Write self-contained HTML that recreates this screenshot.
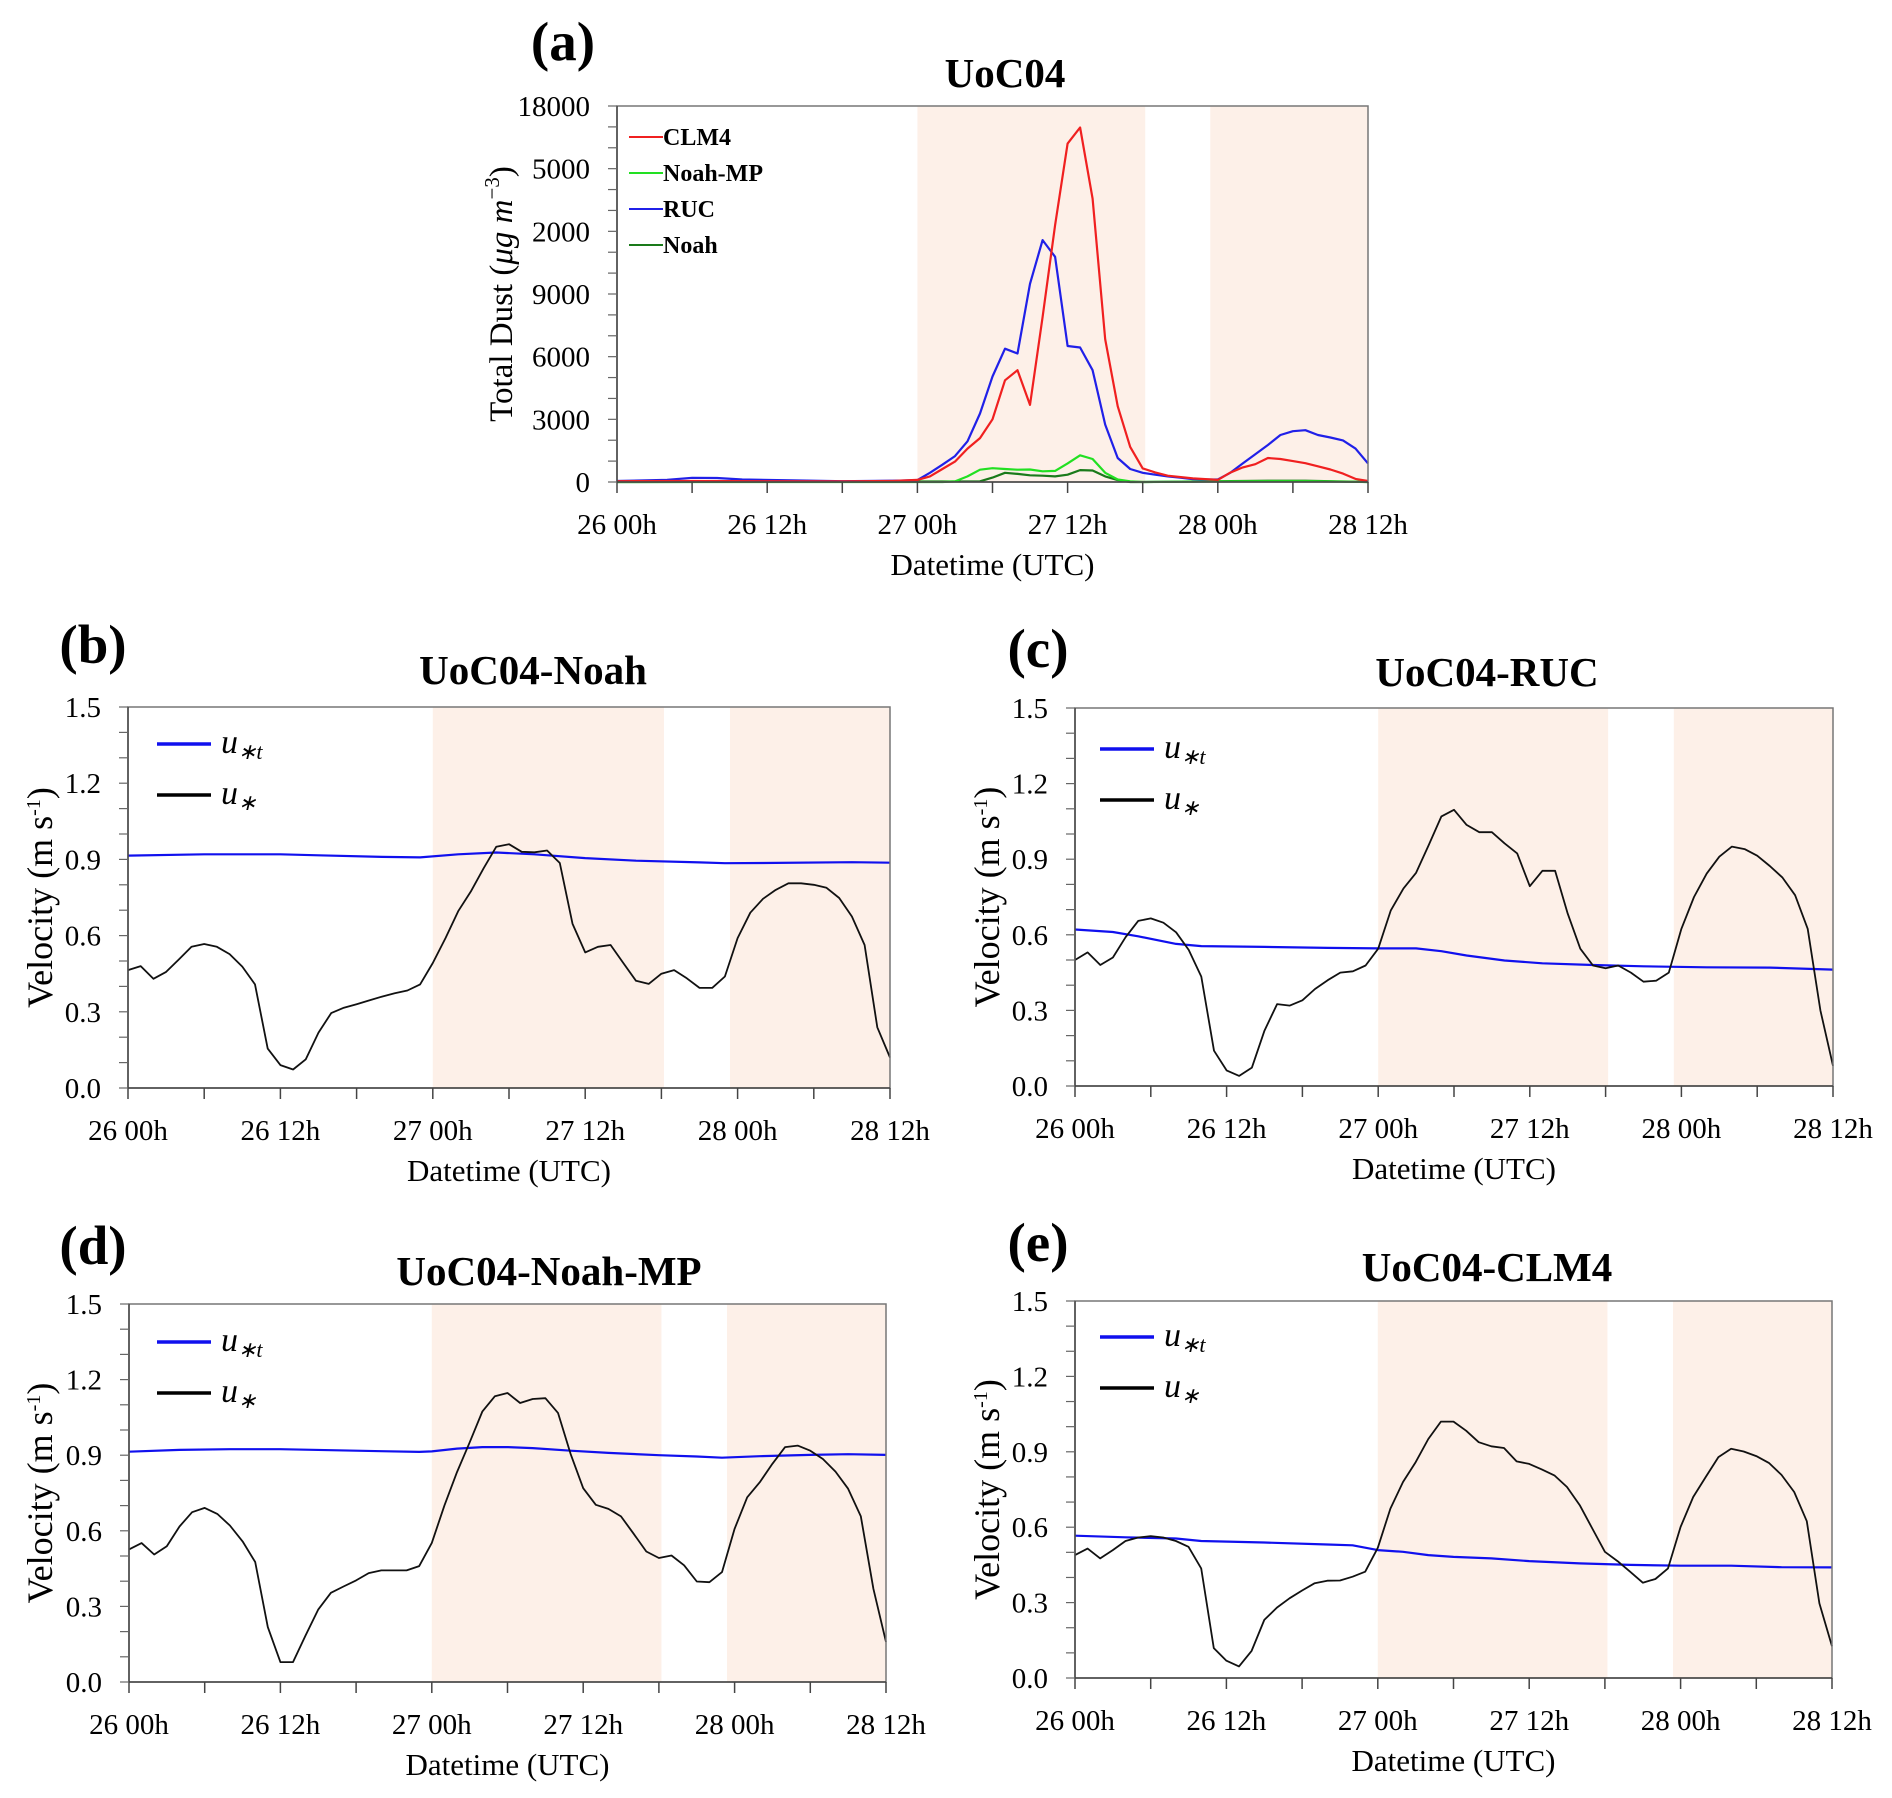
<!DOCTYPE html>
<html><head><meta charset="utf-8">
<style>
html,body{margin:0;padding:0;background:#fff;}
svg{display:block;font-family:"Liberation Serif","Times New Roman",serif;}
</style></head>
<body>
<svg id="fig" width="1892" height="1798" viewBox="0 0 1892 1798" xmlns="http://www.w3.org/2000/svg" font-family="Liberation Serif, serif"></svg>
<script>
// ---------- Data ----------
const xTickHours = [0,6,12,18,24,30,36,42,48,54,60];
const xTickLabels = ["26 00h","","26 12h","","27 00h","","27 12h","","28 00h","","28 12h"];
const shadeSpans = [[24,42.2],[47.4,60]];

// Panel (a) total dust
const dustTickValues = [0,3000,6000,9000,12000,15000,18000];
const dustTickLabels = ["0","3000","6000","9000","2000","5000","18000"];
const clm4Hours = [0,6,12,18,22,24,25,26,27,28,29,30,31,32,33,34,35,36,37,38,39,40,41,42,43,44,46,48,49,50,51,52,53,54,55,56,57,58,59,60];
const clm4Vals  = [40,50,40,30,50,100,270,620,975,1600,2100,3000,4870,5350,3690,7900,12300,16200,16970,13560,6830,3630,1680,650,460,300,170,100,450,700,850,1150,1100,1000,900,750,600,400,150,50];
const mpHours = [0,26,27,28,29,30,31,32,33,34,35,36,37,38,39,40,41,42,52,55,60];
const mpVals  = [0,0,30,270,590,660,620,590,600,510,530,890,1280,1100,440,120,35,0,40,40,0];
const rucHours = [0,4,6,8,10,14,18,22,23,24,25,26,27,28,29,30,31,32,33,34,35,36,37,38,39,40,41,42,43,44,45,46,47,48,49,50,51,52,53,54,55,56,57,58,59,60];
const rucVals  = [50,100,200,190,120,80,40,60,70,90,440,830,1240,1950,3280,5050,6380,6150,9490,11580,10780,6510,6440,5350,2750,1150,620,440,350,270,210,140,120,120,440,890,1330,1770,2250,2430,2480,2250,2130,1990,1600,890];
const noahHours = [0,29,30,31,32,33,34,35,36,37,38,39,40,41,42,52,55,60];
const noahVals  = [0,35,210,440,390,320,300,270,350,570,550,270,90,0,0,60,60,0];

// Panels (b)-(e) velocity
const velTickValues = [0,0.3,0.6,0.9,1.2,1.5];
const velTickLabels = ["0.0","0.3","0.6","0.9","1.2","1.5"];
const ustarNoah = [0.464,0.48,0.43,0.457,0.506,0.556,0.567,0.556,0.527,0.478,0.408,0.155,0.09,0.073,0.113,0.218,0.295,0.316,0.33,0.345,0.36,0.373,0.384,0.408,0.492,0.59,0.696,0.774,0.865,0.95,0.96,0.93,0.928,0.935,0.886,0.647,0.534,0.556,0.563,0.492,0.422,0.41,0.45,0.464,0.432,0.394,0.394,0.439,0.59,0.69,0.745,0.78,0.806,0.806,0.8,0.788,0.748,0.675,0.563,0.239,0.12];
const ustarRuc = [0.50,0.53,0.48,0.51,0.59,0.655,0.665,0.648,0.61,0.54,0.434,0.14,0.062,0.04,0.073,0.22,0.325,0.319,0.34,0.385,0.42,0.45,0.455,0.478,0.545,0.697,0.784,0.846,0.956,1.07,1.096,1.036,1.007,1.007,0.963,0.923,0.793,0.854,0.854,0.684,0.545,0.478,0.467,0.478,0.45,0.414,0.418,0.45,0.624,0.75,0.843,0.91,0.95,0.94,0.914,0.873,0.827,0.757,0.624,0.3,0.08];
const ustarMp = [0.526,0.551,0.506,0.539,0.617,0.674,0.691,0.667,0.621,0.558,0.476,0.218,0.079,0.079,0.185,0.288,0.354,0.379,0.403,0.432,0.443,0.443,0.443,0.46,0.552,0.7,0.833,0.951,1.073,1.134,1.147,1.107,1.123,1.126,1.068,0.905,0.769,0.703,0.687,0.657,0.588,0.518,0.492,0.502,0.463,0.399,0.396,0.436,0.608,0.733,0.793,0.866,0.932,0.938,0.918,0.885,0.835,0.767,0.658,0.37,0.159];
const ustarClm = [0.489,0.515,0.476,0.509,0.545,0.559,0.564,0.559,0.545,0.522,0.436,0.119,0.069,0.046,0.108,0.231,0.28,0.317,0.348,0.377,0.387,0.388,0.403,0.423,0.518,0.674,0.78,0.859,0.951,1.02,1.02,0.984,0.938,0.922,0.915,0.862,0.852,0.83,0.806,0.76,0.688,0.595,0.502,0.465,0.423,0.379,0.394,0.436,0.601,0.72,0.8,0.879,0.912,0.901,0.883,0.856,0.808,0.74,0.624,0.297,0.126];
const utNoahHours = [0,6,12,15,20,23,26,29,32,36,40,45,47,50,57,60];
const utNoahVals  = [0.915,0.92,0.92,0.916,0.91,0.908,0.92,0.927,0.92,0.905,0.895,0.888,0.885,0.886,0.889,0.887];
const utRucHours = [0,3,5,8,10,15,20,24,27,29,31,34,37,41,45,50,55,60];
const utRucVals  = [0.621,0.611,0.594,0.564,0.555,0.552,0.548,0.546,0.546,0.535,0.518,0.498,0.487,0.48,0.475,0.471,0.47,0.462];
const utMpHours = [0,4,8,12,16,20,23,24,26,28,30,32,35,38,42,45,47,50,54,57,60];
const utMpVals  = [0.914,0.921,0.924,0.924,0.92,0.916,0.913,0.915,0.926,0.932,0.932,0.928,0.918,0.909,0.9,0.895,0.89,0.896,0.901,0.904,0.901];
const utClmHours = [0,4,8,10,15,20,22,24,26,28,30,33,36,40,44,48,52,56,60];
const utClmVals  = [0.566,0.56,0.555,0.545,0.539,0.531,0.528,0.509,0.502,0.489,0.482,0.476,0.465,0.456,0.45,0.447,0.447,0.441,0.44];

// ---------- Drawing helpers ----------
const NS = "http://www.w3.org/2000/svg";
const svg = document.getElementById("fig");
function mk(tag, attrs, parent, text){
  const e = document.createElementNS(NS, tag);
  for (const k in attrs) e.setAttribute(k, attrs[k]);
  if (text !== undefined) e.textContent = text;
  (parent || svg).appendChild(e);
  return e;
}
function panel(p){
  const g = mk("g", {});
  
  
  const xs = h => p.L + (h/60)*(p.R-p.L);
  const ys = v => p.B - (v/p.ymax)*(p.B-p.T);
  shadeSpans.forEach((s,i)=>{
    const r = mk("rect",{x:xs(s[0]),y:p.T,width:xs(s[1])-xs(s[0]),height:p.B-p.T,fill:"#fdf0e8"},g);
    
    
  });
  p.series.forEach(s=>{
    const pts = s.hours.map((h,i)=>xs(h).toFixed(1)+","+ys(s.vals[i]).toFixed(1)).join(" ");
    const l = mk("polyline",{points:pts,fill:"none",stroke:s.color,"stroke-width":s.w,"stroke-linejoin":"round"},g);
    
    
  });
  const fr = mk("rect",{x:p.L,y:p.T,width:p.R-p.L,height:p.B-p.T,fill:"none",stroke:"#777","stroke-width":1.5},g);
  
  
  mk("line",{x1:p.L,y1:p.T,x2:p.L,y2:p.B,stroke:"#444","stroke-width":1.5},g);
  mk("line",{x1:p.L,y1:p.B,x2:p.R,y2:p.B,stroke:"#444","stroke-width":1.5},g);
  xTickHours.forEach((h,i)=>{
    mk("line",{x1:xs(h),y1:p.B,x2:xs(h),y2:p.B+11,stroke:"#444","stroke-width":1.5},g);
    if (xTickLabels[i]){
      const t = mk("text",{x:xs(h),y:p.B+52,"text-anchor":"middle","font-size":29},g,xTickLabels[i]);
      
      
    }
  });
  for (let k=0;k<=p.nMinor;k++){
    const v = k*p.ymax/p.nMinor;
    mk("line",{x1:p.L-9,y1:ys(v),x2:p.L,y2:ys(v),stroke:"#666","stroke-width":1.2},g);
  }
  p.yTicks.forEach((v,i)=>{
    const t = mk("text",{x:p.L-27,y:ys(v)+10,"text-anchor":"end","font-size":29},g,p.yLabels[i]);
    
    
  });
  const ti = mk("text",{x:p.titleX,y:p.titleY,"text-anchor":"middle","font-size":41,"font-weight":"bold"},g,p.title);
  
  
  const lt = mk("text",{x:p.letterX,y:p.letterY,"text-anchor":"middle","font-size":55,"font-weight":"bold"},g,p.letter);
  
  
  const xl = mk("text",{x:(p.L+p.R)/2,y:p.B+93,"text-anchor":"middle","font-size":31},g,"Datetime (UTC)");
  
  
  const yl = mk("text",{x:0,y:0,"text-anchor":"middle","font-size":p.yTitleFs,transform:`translate(${p.yTitleX},${(p.T+p.B)/2}) rotate(-90)`},g);
  
  
  yl.innerHTML = p.yTitle;
  p.legend.forEach((e,i)=>{
    const y = p.legY + i*p.legDy;
    const ln = mk("line",{x1:p.legX,y1:y,x2:p.legX+p.legLen,y2:y,stroke:e.color,"stroke-width":p.legW},g);
    
    
    const t = mk("text",{x:p.legX+p.legLen+p.legGap,y:y+p.legTy,"font-size":p.legFs,"font-weight":p.legBold?"bold":"normal","font-style":p.legBold?"normal":"italic"},g);
    
    
    t.innerHTML = e.label;
  });
}

panel({name:"panel-a-total-dust",L:617,R:1368,T:106,B:482,ymax:18000,nMinor:18,
  yTicks:dustTickValues,yLabels:dustTickLabels,
  title:"UoC04",titleX:1005,titleY:87,letter:"(a)",letterX:563,letterY:60,
  yTitleX:512,yTitleFs:33,yTitle:'Total Dust (<tspan font-style="italic">μg m</tspan><tspan font-size="21" dy="-13">−3</tspan><tspan dy="13">)</tspan>',
  series:[
    {id:"series-noah",hours:noahHours,vals:noahVals,color:"#1a7a1a",w:2.2},
    {id:"series-noah-mp",hours:mpHours,vals:mpVals,color:"#22e022",w:2.2},
    {id:"series-ruc",hours:rucHours,vals:rucVals,color:"#2020e8",w:2.2},
    {id:"series-clm4",hours:clm4Hours,vals:clm4Vals,color:"#f02020",w:2.2}],
  legend:[{label:"CLM4",color:"#f02020"},{label:"Noah-MP",color:"#22e022"},{label:"RUC",color:"#2020e8"},{label:"Noah",color:"#1a7a1a"}],
  legX:629,legY:137,legDy:36,legLen:34,legW:2,legGap:0,legTy:8,legFs:24,legBold:true});

const hours61 = Array.from({length:61},(_,i)=>i);
const velLegend = [{label:'u<tspan font-size="22" dy="6">∗t</tspan>',color:"#1010ee"},{label:'u<tspan font-size="22" dy="6">∗</tspan>',color:"#000"}];
const velYTitle = 'Velocity (m s<tspan font-size="20" dy="-12">-1</tspan><tspan dy="12">)</tspan>';
function velPanel(o){
  panel(Object.assign({ymax:1.5,nMinor:15,yTicks:velTickValues,yLabels:velTickLabels,yTitle:velYTitle,yTitleFs:36,
    legend:velLegend,legLen:54,legW:3.5,legGap:10,legTy:9,legFs:34,legDy:51,legBold:false},o));
}
velPanel({name:"panel-b-noah",L:128,R:890,T:707,B:1088,title:"UoC04-Noah",titleX:533,titleY:684,
  letter:"(b)",letterX:93,letterY:663,yTitleX:52,legX:157,legY:744,
  series:[{id:"series-ustar-t",hours:utNoahHours,vals:utNoahVals,color:"#1010ee",w:2.2},
          {id:"series-ustar",hours:hours61,vals:ustarNoah,color:"#111",w:1.8}]});
velPanel({name:"panel-c-ruc",L:1075,R:1833,T:708,B:1086,title:"UoC04-RUC",titleX:1487,titleY:686,
  letter:"(c)",letterX:1038,letterY:667,yTitleX:999,legX:1100,legY:749,
  series:[{id:"series-ustar-t",hours:utRucHours,vals:utRucVals,color:"#1010ee",w:2.2},
          {id:"series-ustar",hours:hours61,vals:ustarRuc,color:"#111",w:1.8}]});
velPanel({name:"panel-d-noah-mp",L:129,R:886,T:1304,B:1682,title:"UoC04-Noah-MP",titleX:549,titleY:1285,
  letter:"(d)",letterX:93,letterY:1264,yTitleX:52,legX:157,legY:1342,
  series:[{id:"series-ustar-t",hours:utMpHours,vals:utMpVals,color:"#1010ee",w:2.2},
          {id:"series-ustar",hours:hours61,vals:ustarMp,color:"#111",w:1.8}]});
velPanel({name:"panel-e-clm4",L:1075,R:1832,T:1301,B:1678,title:"UoC04-CLM4",titleX:1487,titleY:1281,
  letter:"(e)",letterX:1038,letterY:1261,yTitleX:999,legX:1100,legY:1337,
  series:[{id:"series-ustar-t",hours:utClmHours,vals:utClmVals,color:"#1010ee",w:2.2},
          {id:"series-ustar",hours:hours61,vals:ustarClm,color:"#111",w:1.8}]});
</script>
</body></html>
